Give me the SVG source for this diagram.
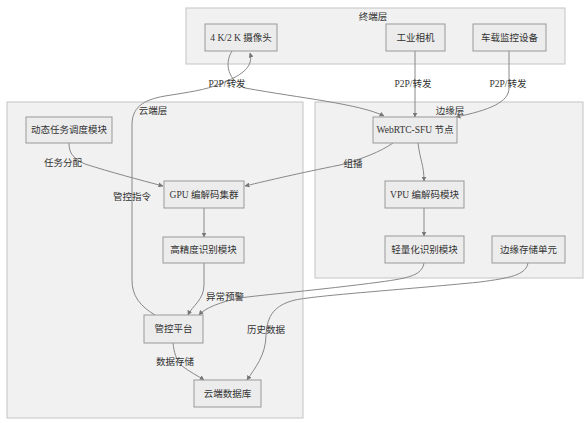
<svg xmlns="http://www.w3.org/2000/svg" width="587" height="423" viewBox="0 0 587 423">
<style>
.cluster{fill:#f1f1f1;stroke:#c4c4c4;stroke-width:1}
.node rect{fill:#ececec;stroke:#999;stroke-width:1}
text{font-family:"Liberation Serif","Noto Sans CJK SC",serif;font-size:9.5px;fill:#333;text-anchor:middle;dominant-baseline:central}
.edge{fill:none;stroke:#888;stroke-width:1;marker-end:url(#arr)}
</style>
<defs>
<marker id="arr" viewBox="0 0 10 10" refX="9" refY="5" markerWidth="5" markerHeight="5" orient="auto" markerUnits="userSpaceOnUse">
<path d="M0,0 L10,5 L0,10 z" fill="#777"/>
</marker>
</defs>
<rect width="587" height="423" fill="#fff"/>
<g id="cluster-terminal"><rect class="cluster" x="186" y="8" width="379" height="56"/><text x="373" y="17">终端层</text></g>
<g id="cluster-cloud"><rect class="cluster" x="7" y="102" width="296" height="316"/><text x="153" y="111">云端层</text></g>
<g id="cluster-edge"><rect class="cluster" x="315" y="102" width="268" height="176"/><text x="450" y="111">边缘层</text></g>

<g id="connectors">
<path class="edge" d="M232,51 C224,64 228,80 245,88 C300,98 360,104 384,116"/>
<path class="edge" d="M415,51 L415,117"/>
<path class="edge" d="M509,51 L509,88 C509,102 490,110 456,117"/>
<path class="edge" d="M155,315 C140,306 132,296 132,280 L132,125 C132,108 142,100 165,96 C190,92 205,90 220,84 C240,76 254,68 250,53"/>
<path class="edge" d="M69,143 C69,152 72,158 85,164 C110,172 140,180 163,186"/>
<path class="edge" d="M393,143 C380,152 362,159 340,165 C300,173 270,180 245,186"/>
<path class="edge" d="M418,143 C420,160 424,165 424,181"/>
<path class="edge" d="M424,208 L424,236"/>
<path class="edge" d="M204,208 L204,237"/>
<path class="edge" d="M204,263 L204,285 C204,300 192,306 188,315"/>
<path class="edge" d="M424,263 C422,275 410,278 380,282 C320,290 260,295 240,298 C220,302 205,308 199,315"/>
<path class="edge" d="M528,263 C526,275 510,278 480,282 C400,290 320,295 295,300 C275,305 267,315 266,335 C266,355 255,368 247,380"/>
<path class="edge" d="M173,343 C174,352 176,360 182,366 C190,372 198,376 204,380"/>
<text x="227" y="84">P2P/转发</text>
<text x="413" y="84">P2P/转发</text>
<text x="508" y="84">P2P/转发</text>
<text x="63" y="163">任务分配</text>
<text x="132" y="197">管控指令</text>
<text x="353" y="164">组播</text>
<text x="225" y="297">异常预警</text>
<text x="266" y="330">历史数据</text>
<text x="175" y="362">数据存储</text>
</g>

<g id="n-camera" class="node"><rect x="205" y="24" width="72" height="27"/><text x="241" y="37.5">4 K/2 K 摄像头</text></g>
<g id="n-industrial" class="node"><rect x="386" y="24" width="59" height="27"/><text x="415.5" y="37.5">工业相机</text></g>
<g id="n-vehicle" class="node"><rect x="473" y="24" width="73" height="27"/><text x="509.5" y="37.5">车载监控设备</text></g>
<g id="n-sched" class="node"><rect x="26" y="117" width="86" height="26"/><text x="69" y="130">动态任务调度模块</text></g>
<g id="n-webrtc" class="node"><rect x="373" y="117" width="84" height="26"/><text x="415" y="130">WebRTC-SFU 节点</text></g>
<g id="n-gpu" class="node"><rect x="164" y="181" width="80" height="27"/><text x="204" y="194.5">GPU 编解码集群</text></g>
<g id="n-vpu" class="node"><rect x="385" y="181" width="79" height="27"/><text x="424.5" y="194.5">VPU 编解码模块</text></g>
<g id="n-hiacc" class="node"><rect x="163" y="237" width="81" height="26"/><text x="203.5" y="250">高精度识别模块</text></g>
<g id="n-light" class="node"><rect x="385" y="236" width="79" height="27"/><text x="424.5" y="249.5">轻量化识别模块</text></g>
<g id="n-edgestore" class="node"><rect x="492" y="236" width="73" height="27"/><text x="528.5" y="249.5">边缘存储单元</text></g>
<g id="n-control" class="node"><rect x="144" y="315" width="59" height="28"/><text x="173.5" y="329">管控平台</text></g>
<g id="n-clouddb" class="node"><rect x="194" y="380" width="67" height="27"/><text x="227.5" y="393.5">云端数据库</text></g>
</svg>
